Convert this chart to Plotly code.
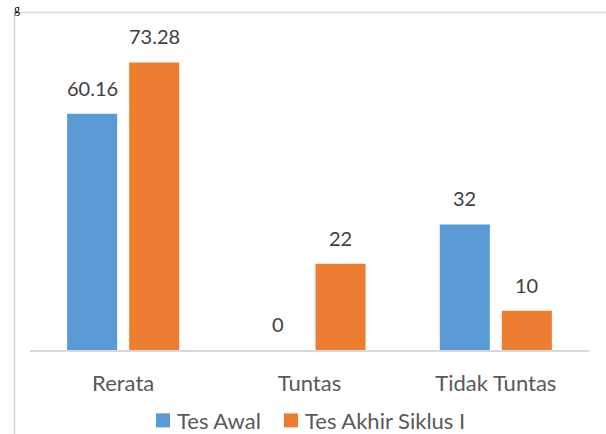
import plotly.graph_objects as go

categories = ["Rerata", "Tuntas", "Tidak Tuntas"]
tes_awal = [60.16, 0, 32]
tes_akhir = [73.28, 22, 10]
series_names = ["Tes Awal", "Tes Akhir Siklus I"]
series_colors = ["#5B9BD5", "#ED7D31"]
labels_awal = ["60.16", "0", "32"]
labels_akhir = ["73.28", "22", "10"]

W, H = 606, 434
L, R, T, B = 30, 17, 36, 83.5
pw, ph = W - L - R, H - T - B

def px_x(x):
    return (x - L) / pw

def px_y(y):
    return (H - B - y) / ph

fig = go.Figure()
fig.add_trace(go.Bar(x=categories, y=tes_awal, name=series_names[0],
                     marker=dict(color=series_colors[0], line=dict(width=0))))
fig.add_trace(go.Bar(x=categories, y=tes_akhir, name=series_names[1],
                     marker=dict(color=series_colors[1], line=dict(width=0))))

annotations = []
for i, c in enumerate(categories):
    for vals, labs, off in ((tes_awal, labels_awal, -0.1664), (tes_akhir, labels_akhir, 0.1664)):
        annotations.append(dict(x=i + off, y=vals[i], xref="x", yref="y", text=labs[i],
                                showarrow=False, yanchor="bottom", yshift=12,
                                font=dict(family="Lato", size=20, color="#404040")))
annotations.append(dict(x=px_x(12), y=px_y(0), xref="paper", yref="paper", text="g",
                        showarrow=False, xanchor="left", yanchor="top",
                        font=dict(family="Liberation Serif", size=12, color="#000000")))

shapes = [
    dict(type="line", xref="paper", yref="paper", x0=px_x(14.5), x1=px_x(14.5),
         y0=px_y(12.5), y1=px_y(440), line=dict(color="#D9D9D9", width=1.5)),
    dict(type="line", xref="paper", yref="paper", x0=px_x(14.5), x1=px_x(620),
         y0=px_y(12.5), y1=px_y(12.5), line=dict(color="#D9D9D9", width=1.5)),
]

# custom legend (larger square markers as in the reference)
legend_x = [156, 284]
for name, col, lx in zip(series_names, series_colors, legend_x):
    shapes.append(dict(type="rect", xref="paper", yref="paper",
                       x0=px_x(lx), x1=px_x(lx + 14), y0=px_y(428), y1=px_y(414),
                       fillcolor=col, line=dict(width=0)))
    annotations.append(dict(x=px_x(lx + 19), y=px_y(421), xref="paper", yref="paper",
                            text=name, showarrow=False, xanchor="left", yanchor="middle",
                            font=dict(family="Lato", size=22, color="#595959")))

fig.update_layout(
    width=W, height=H,
    margin=dict(l=L, r=R, t=T, b=B, pad=0, autoexpand=False),
    paper_bgcolor="white", plot_bgcolor="white",
    barmode="group", bargap=0.334, bargroupgap=0.1935,
    font=dict(family="Lato", size=22, color="#595959"),
    showlegend=False,
    annotations=annotations,
    shapes=shapes,
)
fig.update_xaxes(showline=True, linecolor="#D9D9D9", linewidth=1.5, ticks="",
                 showgrid=False, tickfont=dict(family="Lato", size=22, color="#595959"),
                 ticklabelstandoff=13)
fig.update_yaxes(range=[0, 80], visible=False, showgrid=False, zeroline=False)

fig.write_html("out.html")
